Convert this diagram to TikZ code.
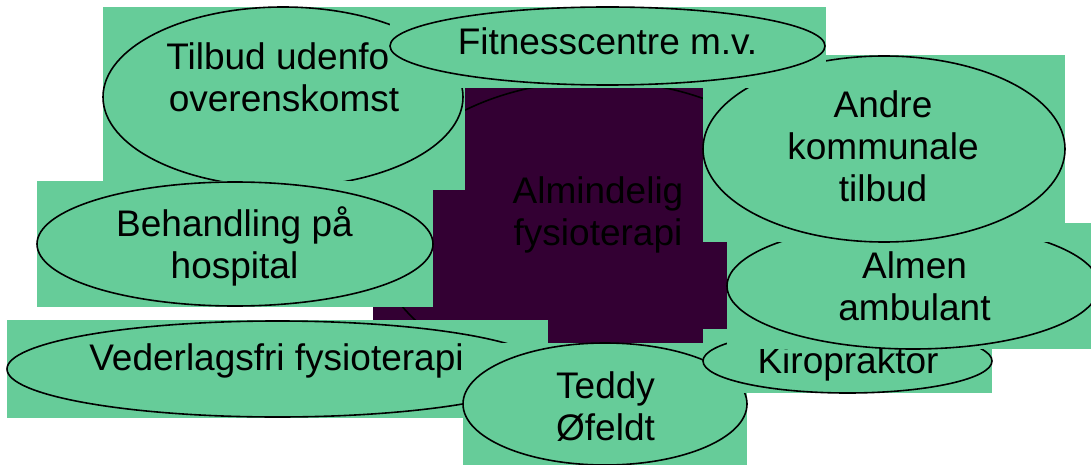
\documentclass[tikz,border=0pt]{standalone}
\usepackage{fontspec}
\setmainfont{Liberation Sans}
\definecolor{bubblegreen}{HTML}{66CC99}
\definecolor{corepurple}{HTML}{330033}
\newcommand{\mlines}[1]{\begin{tabular}[t]{@{}c@{}}#1\end{tabular}}
\tikzset{
  x=1pt, y=-1pt,
  boxfill/.style={fill=bubblegreen},
  corefill/.style={fill=corepurple},
  ring/.style={draw=black, line width=1.6pt},
  lbl/.style={anchor=base, inner sep=0pt, text=black,
    font=\fontsize{37}{42}\selectfont}
}
\begin{document}
\begin{tikzpicture}
\useasboundingbox (0,0) rectangle (1091,465);
\fill[white] (0,0) rectangle (1091,465);
\clip (0,0) rectangle (1091,465);
\renewcommand{\arraystretch}{1}
% central
\path[corefill] (373,81) rectangle (823,383);
\draw[ring] (598,232) ellipse [x radius=225, y radius=151];
\node[lbl] (alm) at (598,203) {\mlines{Almindelig\\fysioterapi}};
% Tilbud
\path[boxfill] (103,7) rectangle (465,190);
\draw[ring] (283,97) ellipse [x radius=180, y radius=90];
\node[lbl] (tilbud) at (284,70) {\mlines{Tilbud udenfo\phantom{r}\\overenskomst}};
% Behandling
\path[boxfill] (37,181) rectangle (433,307);
\draw[ring] (235,244) ellipse [x radius=198, y radius=62];
\node[lbl] (behand) at (234.5,236) {\mlines{Behandling på\\hospital}};
% Vederlagsfri
\path[boxfill] (7,320) rectangle (548,418);
\draw[ring] (277.5,369) ellipse [x radius=270.5, y radius=48];
\node[lbl] (veder) at (276.5,370) {Vederlagsfri fysioterapi};
% Teddy
\path[boxfill] (463,343) rectangle (747,466);
\draw[ring] (605,404) ellipse [x radius=142, y radius=61];
\node[lbl] (teddy) at (605.5,398) {\mlines{Teddy\\Øfeldt}};
% Kiropraktor
\path[boxfill] (703,329) rectangle (992,393);
\draw[ring] (847.5,361) ellipse [x radius=144.5, y radius=32];
\node[lbl] (kiro) at (848,373) {Kiropraktor};
% Almen
\path[boxfill] (727,223) rectangle (1100,349);
\draw[ring] (913,286) ellipse [x radius=186, y radius=63];
\node[lbl] (almen) at (914.5,278) {\mlines{Almen\\ambulant}};
% Andre
\path[boxfill] (703,55) rectangle (1065,242);
\draw[ring] (884,149) ellipse [x radius=181, y radius=93];
\node[lbl] (andre) at (883,118) {\mlines{Andre\\kommunale\\tilbud}};
% Fitness
\path[boxfill] (390,7) rectangle (826,88);
\draw[ring] (607.5,46) ellipse [x radius=217.5, y radius=39];
\node[lbl] (fitness) at (607.5,55) {Fitnesscentre m.v.};
\end{tikzpicture}
\end{document}
